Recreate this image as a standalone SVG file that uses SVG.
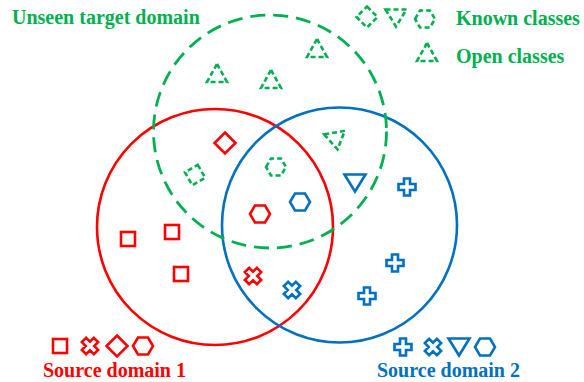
<svg xmlns="http://www.w3.org/2000/svg" width="584" height="382" viewBox="0 0 584 382">
<defs>
<style>
.t{font-family:"Liberation Serif","Times New Roman",serif;font-weight:bold;font-size:20px}
.r{fill:none;stroke:#FF0000;stroke-width:2.6}
.b{fill:none;stroke:#0070C0;stroke-width:2.6}
.g{fill:none;stroke:#00B050;stroke-width:2.6;stroke-dasharray:5 3}
.gc{fill:none;stroke:#00B050;stroke-width:2.8;stroke-dasharray:15 8}
</style>
<rect id="sq" x="-7" y="-7" width="14" height="14"/>
<path id="plus" d="M-3,-8.5H3V-3H8.5V3H3V8.5H-3V3H-8.5V-3H-3Z"/>
<path id="cross" d="M-3,-8.5H3V-3H8.5V3H3V8.5H-3V3H-8.5V-3H-3Z" transform="rotate(45)"/>
<path id="dia" d="M0,-10.5L10.5,0L0,10.5L-10.5,0Z"/>
<path id="hex" d="M-10,0L-5,-8.5H5L10,0L5,8.5H-5Z"/>
<path id="tri" d="M0,-9L10,9H-10Z"/>
<path id="itri" d="M-10.5,-8.5H10.5L0,8.5Z"/>
</defs>
<rect width="584" height="382" fill="#fff"/>
<g id="source-domain-1">
<circle class="r" cx="215" cy="227" r="118"/>
</g>
<g id="source-domain-2">
<circle class="b" cx="339.5" cy="225" r="117.5"/>
</g>
<g id="target-domain">
<circle class="gc" cx="270" cy="131.5" r="116.5"/>
</g>
<g id="samples-red">
<use href="#dia" class="r" x="225" y="143"/>
<use href="#hex" class="r" x="260" y="214"/>
<use href="#sq" class="r" x="128" y="239"/>
<use href="#sq" class="r" x="172" y="232"/>
<use href="#sq" class="r" x="181" y="274"/>
<g transform="translate(253,276)"><use href="#cross" class="r"/></g>
</g>
<g id="samples-blue">
<use href="#hex" class="b" x="300" y="202"/>
<use href="#itri" class="b" x="355" y="183"/>
<use href="#plus" class="b" x="407" y="187"/>
<use href="#plus" class="b" x="395" y="263"/>
<use href="#plus" class="b" x="367" y="296"/>
<g transform="translate(292,290)"><use href="#cross" class="b"/></g>
</g>
<g id="samples-green">
<use href="#tri" class="g" x="217" y="73"/>
<use href="#tri" class="g" x="271" y="79"/>
<use href="#tri" class="g" x="317" y="48"/>
<g transform="translate(195,175) rotate(15)"><use href="#dia" class="g"/></g>
<use href="#hex" class="g" x="276" y="167"/>
<g transform="translate(336,141) rotate(-10)"><use href="#itri" class="g"/></g>
</g>
<g id="legend-target">
<text class="t" x="12" y="24" fill="#00B050">Unseen target domain</text>
<use href="#dia" class="g" x="367" y="17"/>
<use href="#itri" class="g" x="396" y="18"/>
<use href="#hex" class="g" x="425" y="19"/>
<text class="t" x="456" y="25" fill="#00B050">Known classes</text>
<use href="#tri" class="g" x="427" y="52"/>
<text class="t" x="456" y="63" fill="#00B050">Open classes</text>
</g>
<g id="legend-source-1">
<use href="#sq" class="r" x="60" y="346"/>
<g transform="translate(90,346)"><use href="#cross" class="r"/></g>
<use href="#dia" class="r" x="117" y="346"/>
<use href="#hex" class="r" x="143" y="346"/>
<text class="t" x="43" y="377" fill="#FF0000">Source domain 1</text>
</g>
<g id="legend-source-2">
<use href="#plus" class="b" x="403" y="347"/>
<g transform="translate(433,347)"><use href="#cross" class="b"/></g>
<use href="#itri" class="b" x="459" y="347"/>
<use href="#hex" class="b" x="485" y="347"/>
<text class="t" x="377" y="377" fill="#0070C0">Source domain 2</text>
</g>
</svg>
